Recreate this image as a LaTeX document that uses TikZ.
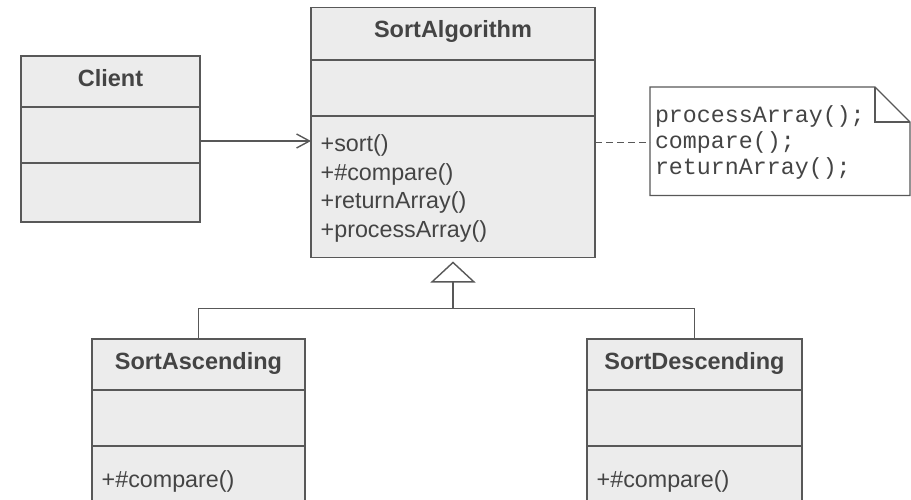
\documentclass[tikz,border=0pt]{standalone}
\usepackage{fontspec}
\setsansfont{Liberation Sans}
\setmonofont{Liberation Mono}
\usepackage{tikz}
\usetikzlibrary{calc, positioning, arrows.meta}
\usepackage{xcolor}
\definecolor{umlLine}{RGB}{88, 88, 88}
\definecolor{umlFill}{RGB}{236, 236, 236}
\definecolor{umlText}{RGB}{68, 68, 68}

\tikzset{
  umlclass/.style={draw=umlLine, fill=umlFill, line width=1.4pt, anchor=north west,
    inner sep=0pt, outer sep=0pt},
  divider/.style={umlLine, line width=1.4pt},
  classtitle/.style={font=\sffamily\bfseries\fontsize{23.5}{28}\selectfont, text=umlText, anchor=base},
  member/.style={font=\sffamily\fontsize{23.3}{28.7}\selectfont, text=umlText, align=left,
    inner sep=0pt},
  notebox/.style={anchor=north west, minimum width=260pt, minimum height=107pt, text width=250pt,
    inner xsep=5pt, inner ysep=0pt, outer sep=0pt, align=left, text=umlText,
    font=\ttfamily\fontsize{23.3}{26}\selectfont},
  assoc/.style={umlLine, line width=1.4pt, -{Straight Barb[length=13pt, width=14pt]}},
  depend/.style={umlLine, line width=1pt, dash pattern=on 7pt off 4pt},
  generalize/.style={umlLine, line width=1.4pt, shorten >=4pt, -{Triangle[open, length=21pt, width=45pt]}}
}

\begin{document}
\begin{tikzpicture}[x=1pt, y=-1pt]
  \useasboundingbox (0,0) rectangle (911,499);
  \clip (0,0) rectangle (911,499);
  % classes
  \node[umlclass, minimum width=179pt, minimum height=166pt] (client) at (21,56) {};
  \node[umlclass, minimum width=284pt, minimum height=250pt] (algo) at (311,7.5) {};
  \node[umlclass, minimum width=213pt, minimum height=200pt] (asc) at (92,339) {};
  \node[umlclass, minimum width=215pt, minimum height=200pt] (desc) at (587,339) {};
  \foreach \cls/\a/\b in {client/51/107, algo/52.5/108.5, asc/51/107, desc/51/107} {
    \draw[divider] ([yshift=-\a pt]\cls.north west) -- ([yshift=-\a pt]\cls.north east);
    \draw[divider] ([yshift=-\b pt]\cls.north west) -- ([yshift=-\b pt]\cls.north east);
  }
  \node[classtitle] (client-title) at ([yshift=-30.5pt]client.north) {Client};
  \node[classtitle] (algo-title) at ([yshift=-30pt]algo.north) {SortAlgorithm};
  \node[classtitle] (asc-title) at ([yshift=-30.5pt]asc.north) {SortAscending};
  \node[classtitle] (desc-title) at ([yshift=-30.5pt]desc.north) {SortDescending};
  % operations
  \node[member, anchor=north west] (algo-ops) at ([xshift=9.5pt, yshift=-127pt]algo.north west)
    {+sort()\\+\#compare()\\+returnArray()\\+processArray()};
  \node[member, anchor=base west] (asc-ops) at ([xshift=9.5pt, yshift=-148pt]asc.north west) {+\#compare()};
  \node[member, anchor=base west] (desc-ops) at ([xshift=9.5pt, yshift=-148pt]desc.north west) {+\#compare()};
  % note
  \node[notebox] (note) at (650,88.5) {processArray();\\compare();\\returnArray();};
  \draw[umlLine, line width=1.4pt] ([yshift=1.5pt]note.north west) -- ([xshift=-35pt, yshift=1.5pt]note.north east)
    -- ([yshift=-33.5pt]note.north east) -- (note.south east) -- (note.south west) -- cycle;
  \draw[umlLine, line width=1.4pt] ([xshift=-35pt, yshift=1.5pt]note.north east) |- ([yshift=-33.5pt]note.north east);
  % connectors
  \draw[assoc] ([yshift=-2pt]client.east) -- ([yshift=-2pt]client.east -| algo.west);
  \draw[depend] (algo.east |- note.west) -- (note.west);
  \coordinate[below=51pt of algo.south] (hub);
  \draw[generalize] (hub) -- (algo.south);
  \draw[divider] (asc.north) |- (hub) -| (desc.north);
\end{tikzpicture}
\end{document}
